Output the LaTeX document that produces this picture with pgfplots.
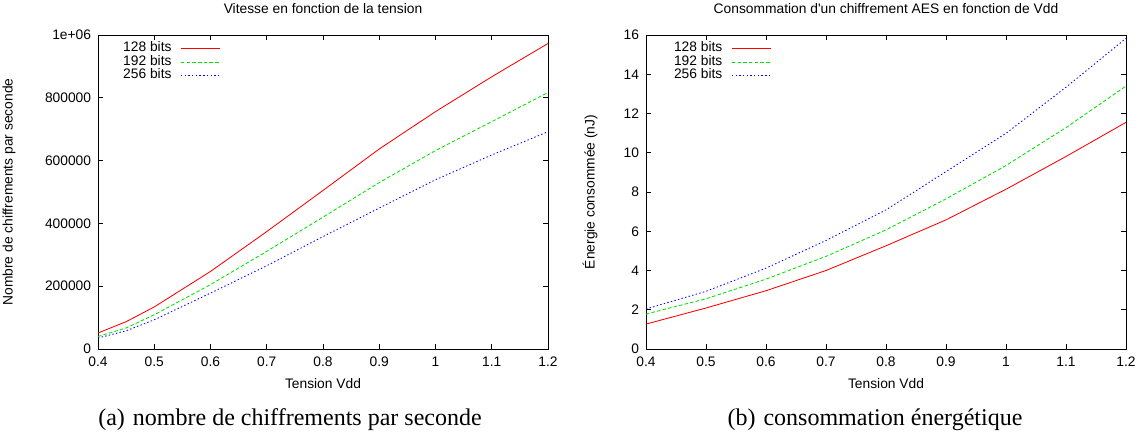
\documentclass[border=0pt]{standalone}
\usepackage{fontspec}
\setmainfont{Liberation Serif}
\newfontfamily\helv{Liberation Sans}
\usepackage{pgfplots}
\pgfplotsset{compat=1.18}
\definecolor{gpred}{RGB}{255,0,0}
\definecolor{gpgreen}{RGB}{0,225,0}
\definecolor{gpblue}{RGB}{0,0,255}
\newcommand{\gpfont}{\helv\fontsize{13.8}{16}\selectfont}
\pgfplotsset{
  gp/.style={
    scale only axis, height=314pt,
    xmin=0.4, xmax=1.2,
    xtick={0.4,0.5,...,1.2},
    xticklabels={0.4,0.5,0.6,0.7,0.8,0.9,1,1.1,1.2},
    tick align=inside, major tick length=5pt,
    axis line style={line width=0.9pt},
    every tick/.style={line width=0.7pt, black},
    tick label style={font=\gpfont},
    xticklabel style={yshift=-4.4pt},
    yticklabel style={xshift=-3.4pt},
    /pgf/number format/assume math mode=true,
    label style={font=\gpfont},
    title style={font=\gpfont,
      at={(axis description cs:0.5,1)}, anchor=center, yshift=20pt},
    xlabel style={at={(axis description cs:0.5,0)}, anchor=center, yshift=-35pt},
    legend style={draw=none, fill=none, font=\gpfont,
      inner sep=0pt, row sep=0pt, column sep=9pt,
      nodes={inner sep=0pt, text height=9.75pt, text depth=3.75pt},
      anchor=north west},
    legend plot pos=right,
    legend image code/.code={\draw[#1] (0pt,0pt) -- (39pt,0pt);},
    every axis plot/.append style={line width=0.85pt},
  },
}
\begin{document}
\begin{tikzpicture}
\useasboundingbox (0,0) rectangle (1142pt,-437pt);
\begin{axis}[gp,
  at={(98pt,-349pt)}, anchor=south west, width=450pt,
  ymin=0, ymax=1000000,
  ytick={0,200000,400000,600000,800000,1000000},
  yticklabels={0,200000,400000,600000,800000,1e+06},
  scaled y ticks=false,
  title={Vitesse en fonction de la tension},
  xlabel={Tension Vdd},
  ylabel={Nombre de chiffrements par seconde},
  ylabel style={at={(axis description cs:0,0.5)}, anchor=center, yshift=89pt},
  legend style={at={(axis description cs:0.0556,0.978)}},
]
\addplot[gpred] coordinates {(0.4,51000) (0.45,87000) (0.5,134000) (0.6,247000) (0.7,374000)
  (0.8,505000) (0.9,637000) (1.0,756000) (1.1,867000) (1.2,973000)};
\addplot[gpgreen, dash pattern=on 3.5pt off 2.2pt] coordinates {(0.4,40000) (0.45,67000) (0.5,109000) (0.6,205000) (0.7,311000)
  (0.8,420000) (0.9,530000) (1.0,632000) (1.1,724000) (1.2,817000)};
\addplot[gpblue, dash pattern=on 1.4pt off 2.3pt] coordinates {(0.4,35000) (0.45,58000) (0.5,93000) (0.6,178000) (0.7,265000)
  (0.8,358000) (0.9,449000) (1.0,539000) (1.1,618000) (1.2,692000)};
\legend{128 bits, 192 bits, 256 bits}
\end{axis}
\begin{axis}[gp,
  at={(646pt,-349pt)}, anchor=south west, width=480pt,
  ymin=0, ymax=16, ytick={0,2,...,16},
  title={Consommation d'un chiffrement AES en fonction de Vdd},
  xlabel={Tension Vdd},
  ylabel={Énergie consommée (nJ)},
  ylabel style={at={(axis description cs:0,0.5)}, anchor=center, yshift=56pt},
  legend style={at={(axis description cs:0.058,0.978)}},
]
\addplot[gpred] coordinates {(0.4,1.27) (0.5,2.09) (0.6,2.97) (0.7,4.0) (0.8,5.26)
  (0.9,6.58) (1.0,8.14) (1.1,9.81) (1.2,11.55)};
\addplot[gpgreen, dash pattern=on 3.5pt off 2.2pt] coordinates {(0.4,1.78) (0.5,2.56) (0.6,3.56) (0.7,4.72) (0.8,6.07)
  (0.9,7.65) (1.0,9.35) (1.1,11.28) (1.2,13.4)};
\addplot[gpblue, dash pattern=on 1.4pt off 2.3pt] coordinates {(0.4,2.04) (0.5,2.94) (0.6,4.12) (0.7,5.53) (0.8,7.09)
  (0.9,9.04) (1.0,10.99) (1.1,13.34) (1.2,15.83)};
\legend{128 bits, 192 bits, 256 bits}
\end{axis}
\node[font=\fontsize{24}{28}\selectfont] at (290pt,-420pt) {(a)\hspace{8pt}nombre de chiffrements par seconde};
\node[font=\fontsize{24}{28}\selectfont] at (875pt,-420pt) {(b)\hspace{8pt}consommation énergétique};
\end{tikzpicture}
\end{document}
